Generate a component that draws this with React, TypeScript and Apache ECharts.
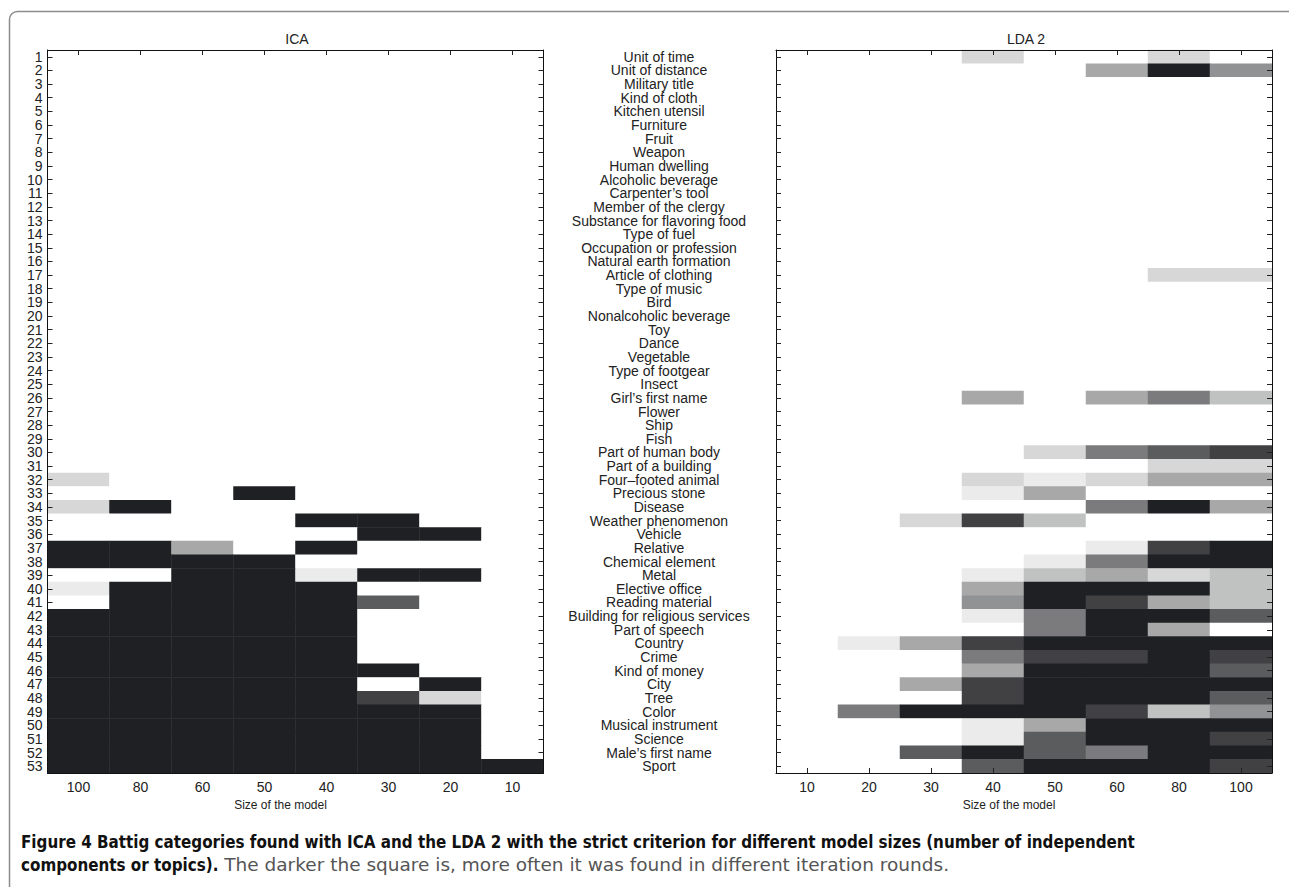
import React, { useEffect, useRef } from "react";
import * as echarts from "echarts";

const icaSizes = ["100", "80", "60", "50", "40", "30", "20", "10"];
const ldaSizes = ["10", "20", "30", "40", "50", "60", "80", "100"];
const rowNumbers = Array.from({ length: 53 }, (_, i) => String(i + 1));

const categoryNames = [
  "Unit of time", "Unit of distance", "Military title", "Kind of cloth", "Kitchen utensil",
  "Furniture", "Fruit", "Weapon", "Human dwelling", "Alcoholic beverage",
  "Carpenter\u2019s tool", "Member of the clergy", "Substance for flavoring food", "Type of fuel",
  "Occupation or profession", "Natural earth formation", "Article of clothing", "Type of music",
  "Bird", "Nonalcoholic beverage", "Toy", "Dance", "Vegetable", "Type of footgear", "Insect",
  "Girl\u2019s first name", "Flower", "Ship", "Fish", "Part of human body", "Part of a building",
  "Four\u2013footed animal", "Precious stone", "Disease", "Weather phenomenon", "Vehicle",
  "Relative", "Chemical element", "Metal", "Elective office", "Reading material",
  "Building for religious services", "Part of speech", "Country", "Crime", "Kind of money",
  "City", "Tree", "Color", "Musical instrument", "Science", "Male\u2019s first name", "Sport",
];

const Z = [0, 0, 0, 0, 0, 0, 0, 0];

// ICA: rows 1..53, columns 100,80,60,50,40,30,20,10
const icaValues = [
  Z, Z, Z, Z, Z, Z, Z, Z, Z, Z,
  Z, Z, Z, Z, Z, Z, Z, Z, Z, Z,
  Z, Z, Z, Z, Z, Z, Z, Z, Z, Z,
  Z,
  [0.18, 0, 0, 0, 0, 0, 0, 0],
  [0, 0, 0, 1, 0, 0, 0, 0],
  [0.18, 1, 0, 0, 0, 0, 0, 0],
  [0, 0, 0, 0, 1, 1, 0, 0],
  [0, 0, 0, 0, 0, 1, 1, 0],
  [1, 1, 0.39, 0, 1, 0, 0, 0],
  [1, 1, 1, 1, 0, 0, 0, 0],
  [0, 0, 1, 1, 0.09, 1, 1, 0],
  [0.09, 1, 1, 1, 1, 0, 0, 0],
  [0, 1, 1, 1, 1, 0.73, 0, 0],
  [1, 1, 1, 1, 1, 0, 0, 0],
  [1, 1, 1, 1, 1, 0, 0, 0],
  [1, 1, 1, 1, 1, 0, 0, 0],
  [1, 1, 1, 1, 1, 0, 0, 0],
  [1, 1, 1, 1, 1, 1, 0, 0],
  [1, 1, 1, 1, 1, 0, 1, 0],
  [1, 1, 1, 1, 1, 0.85, 0.18, 0],
  [1, 1, 1, 1, 1, 1, 1, 0],
  [1, 1, 1, 1, 1, 1, 1, 0],
  [1, 1, 1, 1, 1, 1, 1, 0],
  [1, 1, 1, 1, 1, 1, 1, 0],
  [1, 1, 1, 1, 1, 1, 1, 1],
];

// LDA 2: rows 1..53, columns 10,20,30,40,50,60,80,100
const ldaValues = [
  [0, 0, 0, 0.18, 0, 0, 0.18, 0],
  [0, 0, 0, 0, 0, 0.39, 1, 0.49],
  Z, Z, Z, Z, Z, Z, Z, Z, Z, Z, Z, Z, Z, Z,
  [0, 0, 0, 0, 0, 0, 0.18, 0.18],
  Z, Z, Z, Z, Z, Z, Z, Z,
  [0, 0, 0, 0.39, 0, 0.39, 0.59, 0.28],
  Z, Z, Z,
  [0, 0, 0, 0, 0.18, 0.59, 0.73, 0.85],
  [0, 0, 0, 0, 0, 0, 0.18, 0.18],
  [0, 0, 0, 0.18, 0.09, 0.18, 0.39, 0.39],
  [0, 0, 0, 0.09, 0.39, 0, 0, 0],
  [0, 0, 0, 0, 0, 0.59, 1, 0.39],
  [0, 0, 0.18, 0.85, 0.28, 0, 0, 0],
  Z,
  [0, 0, 0, 0, 0, 0.09, 0.85, 1],
  [0, 0, 0, 0, 0.09, 0.59, 1, 1],
  [0, 0, 0, 0.09, 0.28, 0.39, 0.18, 0.28],
  [0, 0, 0, 0.39, 1, 1, 1, 0.28],
  [0, 0, 0, 0.49, 1, 0.85, 0.39, 0.28],
  [0, 0, 0, 0.09, 0.59, 1, 1, 0.73],
  [0, 0, 0, 0, 0.59, 1, 0.39, 0],
  [0, 0.09, 0.39, 0.85, 1, 1, 1, 1],
  [0, 0, 0, 0.59, 0.85, 0.85, 1, 0.85],
  [0, 0, 0, 0.39, 1, 1, 1, 0.73],
  [0, 0, 0.39, 0.85, 1, 1, 1, 1],
  [0, 0, 0, 0.85, 1, 1, 1, 0.73],
  [0, 0.59, 1, 1, 1, 0.85, 0.28, 0.49],
  [0, 0, 0, 0.09, 0.39, 1, 1, 1],
  [0, 0, 0, 0.09, 0.73, 1, 1, 0.85],
  [0, 0, 0.73, 1, 0.73, 0.59, 1, 1],
  [0, 0, 0, 0.73, 1, 1, 1, 0.85],
];

const captionBold1 =
  "Figure 4 Battig categories found with ICA and the LDA 2 with the strict criterion for different model sizes (number of independent";
const captionBold2 = "components or topics).";
const captionNormal = " The darker the square is, more often it was found in different iteration rounds.";

const FONT = "'Liberation Sans', Arial, Helvetica, sans-serif";
const CAPFONT = "'Liberation Sans Narrow', 'DejaVu Sans Condensed', 'Open Sans', sans-serif";
const NORMFONT = "'DejaVu Sans', 'Open Sans', sans-serif";

function toCells(rows: number[][]) {
  const out: number[][] = [];
  rows.forEach((row, r) => row.forEach((v, c) => out.push([c, r, v])));
  return out;
}

export default function App() {
  const ref = useRef<HTMLDivElement>(null);
  useEffect(() => {
    const chart = echarts.init(ref.current!, undefined, { renderer: "svg" });
    const line = { show: true, lineStyle: { color: "#111", width: 1 } };
    const tick = { show: true, inside: true, length: 5, alignWithLabel: true, interval: 0, lineStyle: { color: "#222", width: 1 } };
    const lbl = { color: "#222", fontSize: 14, fontFamily: FONT, interval: 0 };
    const grids = [
      { left: 47.5, top: 50, width: 496, height: 723 },
      { left: 776, top: 50, width: 496, height: 723 },
    ];
    const xAxisFor = (g: number, data: string[], show: boolean, pos: string) => ({
      type: "category", gridIndex: g, data, position: pos, z: 5,
      axisLine: line, axisTick: tick, splitLine: { show: false },
      axisLabel: show ? { ...lbl, margin: 7 } : { show: false },
      name: show ? "Size of the model" : "",
      nameLocation: "middle", nameGap: 23,
      nameTextStyle: { color: "#222", fontSize: 12, fontFamily: FONT, padding: [0, 30, 0, 0] },
    });
    const yAxisFor = (g: number, data: string[], label: any, pos: string) => ({
      type: "category", gridIndex: g, data, inverse: true, position: pos, z: 5,
      axisLine: line, axisTick: tick, splitLine: { show: false },
      axisLabel: label,
    });
    chart.setOption({
      animation: false,
      backgroundColor: "#ffffff",
      title: [
        { text: "ICA", left: 292, top: 27, textAlign: "center", textStyle: { fontSize: 14, fontWeight: "normal", color: "#222", fontFamily: FONT } },
        { text: "LDA 2", left: 1021, top: 27, textAlign: "center", textStyle: { fontSize: 14, fontWeight: "normal", color: "#222", fontFamily: FONT } },
      ],
      grid: grids,
      xAxis: [
        xAxisFor(0, icaSizes, true, "bottom"),
        xAxisFor(0, icaSizes, false, "top"),
        xAxisFor(1, ldaSizes, true, "bottom"),
        xAxisFor(1, ldaSizes, false, "top"),
      ],
      yAxis: [
        yAxisFor(0, rowNumbers, { ...lbl, margin: 5 }, "left"),
        yAxisFor(0, rowNumbers, { show: false }, "right"),
        yAxisFor(1, categoryNames, { ...lbl, margin: 117, align: "center" }, "left"),
        yAxisFor(1, categoryNames, { show: false }, "right"),
      ],
      visualMap: {
        type: "continuous", show: false, min: 0, max: 1, seriesIndex: [0, 1],
        inRange: { color: ["#ffffff", "#1f2023"] },
      },
      series: [
        { type: "heatmap", xAxisIndex: 0, yAxisIndex: 0, data: toCells(icaValues), itemStyle: { borderWidth: 0 }, emphasis: { disabled: true } },
        { type: "heatmap", xAxisIndex: 2, yAxisIndex: 2, data: toCells(ldaValues), itemStyle: { borderWidth: 0 }, emphasis: { disabled: true } },
      ],
      graphic: [
        { type: "rect", left: 7, top: 9, shape: { width: 1320, height: 920, r: 8 }, style: { fill: "none", stroke: "#8c8c8c", lineWidth: 1.5 }, z: -1 },
        { type: "text", left: 21, top: 833, style: { text: captionBold1, font: `bold 16.85px ${CAPFONT}`, fill: "#111" } },
        {
          type: "text", left: 21, top: 855,
          style: {
            text: `{b|${captionBold2}}{n|${captionNormal}}`,
            rich: {
              b: { fontWeight: "bold", fontSize: 16.85, fontFamily: CAPFONT, fill: "#111", color: "#111" },
              n: { fontWeight: "normal", fontSize: 18.5, fontFamily: NORMFONT, fill: "#555", color: "#555" },
            },
          },
        },
      ],
    });
    return () => chart.dispose();
  }, []);
  return <div ref={ref} style={{ position: "absolute", left: 0, top: 0, width: 1289, height: 887 }} />;
}
